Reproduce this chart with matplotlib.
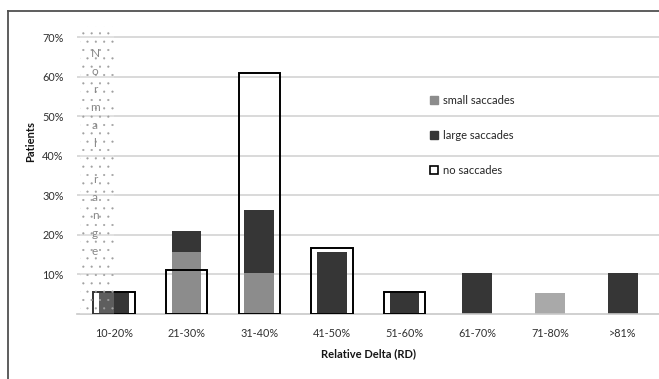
import matplotlib.pyplot as plt
import numpy as np
from matplotlib.patches import Rectangle
from matplotlib.lines import Line2D

plt.rcParams['font.family'] = ['Lato', 'DejaVu Sans']
plt.rcParams['hatch.linewidth'] = 0.3

# data (share of patients)
categories = ['10-20%', '21-30%', '31-40%', '41-50%', '51-60%', '61-70%', '71-80%', '>81%']
small_sacc = [0, 0.158, 0.105, 0, 0, 0, 0.053, 0]
large_sacc = [0.053, 0.053, 0.158, 0.158, 0.053, 0.105, 0, 0.105]
no_sacc = [0.056, 0.111, 0.611, 0.167, 0.056, 0, 0, 0]
yticks = [0.1, 0.2, 0.3, 0.4, 0.5, 0.6, 0.7]

fig = plt.figure(figsize=(6.59, 3.79), dpi=100)
ax = fig.add_axes([0.1176, 0.1715, 0.8824, 0.760])

x = np.arange(len(categories))
small_cols = ['#8c8c8c'] * 6 + ['#a9a9a9', '#8c8c8c']

ax.bar(x, small_sacc, width=0.41, color=small_cols, zorder=2)
ax.bar(x, large_sacc, width=0.41, bottom=small_sacc, color='#363636', zorder=2)
outl = ax.bar(x, no_sacc, width=0.57, facecolor='none', edgecolor='black', linewidth=1.4, zorder=3)
for b, v in zip(outl, no_sacc):
    if v == 0:
        b.set_visible(False)

# "Normal range" shaded box
ax.add_patch(Rectangle((-0.46, 0), 0.46, 0.729, facecolor=(1, 1, 1, 0.2),
                       edgecolor='#a0a0a0', linewidth=0, hatch='..', zorder=4))
for i, ch in enumerate('Normal range'):
    ax.text(-0.26, 0.66 - i * 0.0456, ch, ha='center', va='center',
            fontsize=8.5, color='#888888', zorder=5)

ax.set_xlim(-0.5, 7.5)
ax.set_ylim(0, 0.729)
ax.set_yticks(yticks)
ax.set_yticklabels([f'{int(round(v * 100))}%' for v in yticks])
ax.set_xticks(x)
ax.set_xticklabels(categories)
ax.tick_params(axis='both', length=0, labelsize=7.8, colors='#303030')
ax.tick_params(axis='y', pad=10)
ax.tick_params(axis='x', pad=10)
ax.yaxis.grid(True, color='#d9d9d9', linewidth=1.4, zorder=0)
ax.set_axisbelow(True)
for s in ['top', 'right', 'left']:
    ax.spines[s].set_visible(False)
ax.spines['bottom'].set_color('#c8c8c8')
ax.spines['bottom'].set_linewidth(1.2)

ax.set_ylabel('Patients', fontsize=8, fontweight='bold', color='#151515')
ax.yaxis.set_label_coords(-0.072, 0.60)
ax.set_xlabel('Relative Delta (RD)', fontsize=8, fontweight='bold', color='#151515')
ax.xaxis.set_label_coords(0.5, -0.12)

handles = [
    Line2D([], [], marker='s', linestyle='none', markersize=6, markerfacecolor='#8c8c8c', markeredgecolor='#8c8c8c'),
    Line2D([], [], marker='s', linestyle='none', markersize=6, markerfacecolor='#363636', markeredgecolor='#363636'),
    Line2D([], [], marker='s', linestyle='none', markersize=6, markerfacecolor='white', markeredgecolor='black', markeredgewidth=1.2),
]
leg = ax.legend(handles, ['small saccades', 'large saccades', 'no saccades'],
                loc='upper left', bbox_to_anchor=(0.588, 0.795), frameon=False,
                fontsize=8, labelspacing=2.15, handlelength=0.8, handletextpad=0.4)
for t in leg.get_texts():
    t.set_color('#252525')

# outer frame (top and left edges)
fig.add_artist(Line2D([8 / 659, 8 / 659], [0, 1 - 11 / 379], color='#505050', linewidth=1.3))
fig.add_artist(Line2D([8 / 659, 1], [1 - 11 / 379, 1 - 11 / 379], color='#505050', linewidth=1.3))

fig.savefig('out.png', dpi=100)
